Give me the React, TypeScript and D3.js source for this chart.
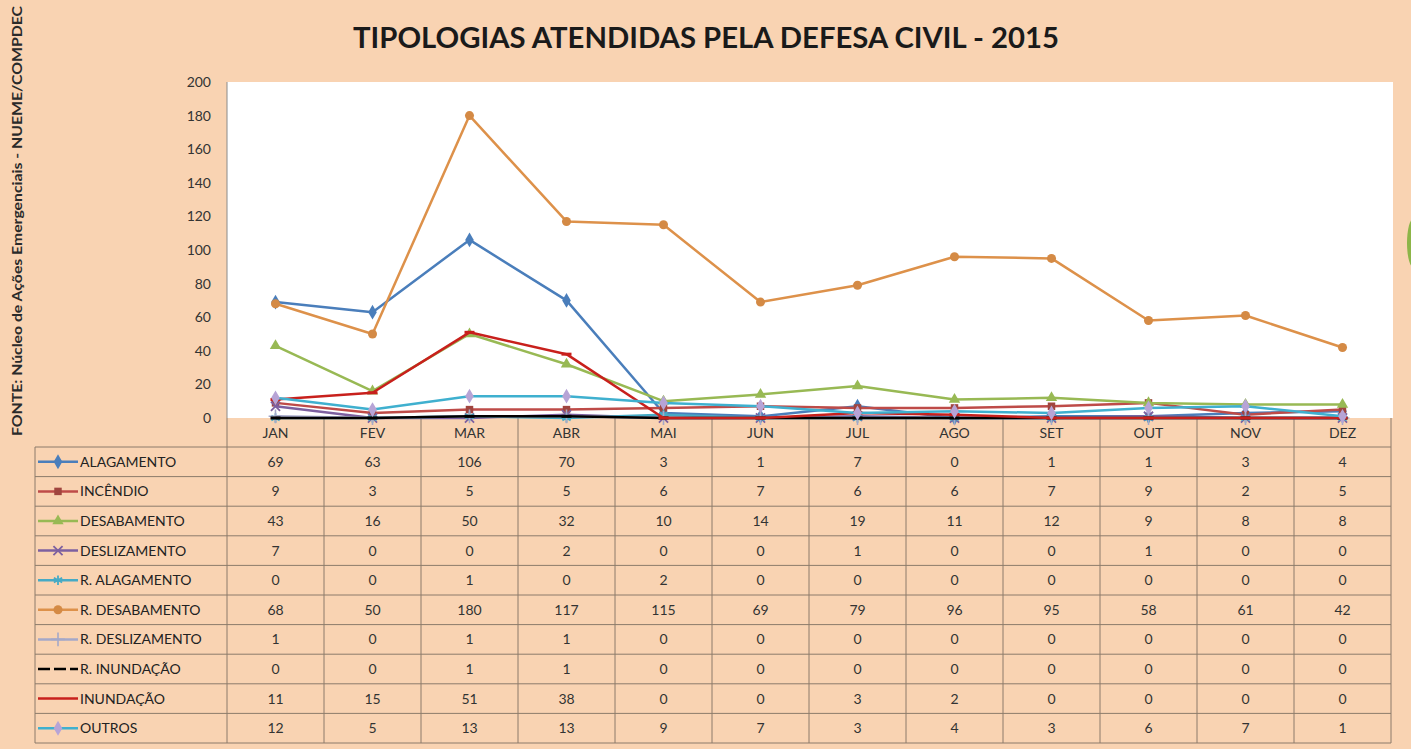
import React from "react";
import * as d3 from "d3";

const months = ["JAN", "FEV", "MAR", "ABR", "MAI", "JUN", "JUL", "AGO", "SET", "OUT", "NOV", "DEZ"];
const yTicks = [0, 20, 40, 60, 80, 100, 120, 140, 160, 180, 200];

const alagamento = [69, 63, 106, 70, 3, 1, 7, 0, 1, 1, 3, 4];
const incendio = [9, 3, 5, 5, 6, 7, 6, 6, 7, 9, 2, 5];
const desabamento = [43, 16, 50, 32, 10, 14, 19, 11, 12, 9, 8, 8];
const deslizamento = [7, 0, 0, 2, 0, 0, 1, 0, 0, 1, 0, 0];
const rAlagamento = [0, 0, 1, 0, 2, 0, 0, 0, 0, 0, 0, 0];
const rDesabamento = [68, 50, 180, 117, 115, 69, 79, 96, 95, 58, 61, 42];
const rDeslizamento = [1, 0, 1, 1, 0, 0, 0, 0, 0, 0, 0, 0];
const rInundacao = [0, 0, 1, 1, 0, 0, 0, 0, 0, 0, 0, 0];
const inundacao = [11, 15, 51, 38, 0, 0, 3, 2, 0, 0, 0, 0];
const outros = [12, 5, 13, 13, 9, 7, 3, 4, 3, 6, 7, 1];

const seriesNames = [
  "ALAGAMENTO", "INCÊNDIO", "DESABAMENTO", "DESLIZAMENTO", "R. ALAGAMENTO",
  "R. DESABAMENTO", "R. DESLIZAMENTO", "R. INUNDAÇÃO", "INUNDAÇÃO", "OUTROS",
];
const seriesValues = [
  alagamento, incendio, desabamento, deslizamento, rAlagamento,
  rDesabamento, rDeslizamento, rInundacao, inundacao, outros,
];

type Style = { line: string; marker: string; kind: string };
const styles: Style[] = [
  { line: "#4A7EBB", marker: "#4A7EBB", kind: "diamond" },
  { line: "#BE4B48", marker: "#A0453F", kind: "square" },
  { line: "#98B954", marker: "#98B954", kind: "triangle" },
  { line: "#7D60A0", marker: "#7D60A0", kind: "x" },
  { line: "#46AAC5", marker: "#46AAC5", kind: "asterisk" },
  { line: "#DD914A", marker: "#D48A45", kind: "circle" },
  { line: "#A5A8C8", marker: "#A5A8C8", kind: "plus" },
  { line: "#000000", marker: "#000000", kind: "dash" },
  { line: "#C8201C", marker: "#C8201C", kind: "dash" },
  { line: "#3FB0CF", marker: "#B7A4D6", kind: "diamond" },
];

const W = 1411, H = 749;
const plotL = 227, plotR = 1391, plotT = 82, plotB = 418;
const tableL = 35;
const headerB = 447;
const rowH = 29.6;

function Marker({ x, y, s }: { x: number; y: number; s: Style }) {
  const k = s.kind;
  const t = `translate(${x},${y})`;
  if (k === "diamond") return <path d={d3.symbol(d3.symbolDiamond, 64)()!} transform={t} fill={s.marker} />;
  if (k === "square") return <path d={d3.symbol(d3.symbolSquare, 56)()!} transform={t} fill={s.marker} />;
  if (k === "triangle") return <path d={d3.symbol(d3.symbolTriangle, 56)()!} transform={t} fill={s.marker} />;
  if (k === "circle") return <path d={d3.symbol(d3.symbolCircle, 64)()!} transform={t} fill={s.marker} />;
  if (k === "x") return <path d={d3.symbol(d3.symbolX, 56)()!} transform={t} fill="none" stroke={s.marker} strokeWidth={1.8} />;
  if (k === "asterisk") return <path d={d3.symbol(d3.symbolAsterisk, 64)()!} transform={t} fill="none" stroke={s.marker} strokeWidth={1.8} />;
  if (k === "plus") return <path d={d3.symbol(d3.symbolPlus, 64)()!} transform={t} fill="none" stroke={s.marker} strokeWidth={1.6} />;
  if (k === "dash") return <line x1={x - 5} x2={x + 5} y1={y} y2={y} stroke={s.marker} strokeWidth={3} />;
  return null;
}

export default function App() {
  const x = d3.scaleBand<string>().domain(months).range([plotL, plotR]);
  const y = d3.scaleLinear().domain([0, 200]).range([plotB, plotT]);
  const cx = (m: string) => (x(m) ?? 0) + x.bandwidth() / 2;
  const line = d3.line<number>().x((_, i) => cx(months[i])).y((v) => y(v));
  const font = "Lato, 'Open Sans', sans-serif";
  const gridColor = "#8C7B6B";

  return (
    <svg width={W} height={H} style={{ position: "absolute", left: 0, top: 0 }} fontFamily={font}>
      <rect x={0} y={0} width={W} height={H} fill="#F9D3B2" />
      <ellipse cx={1414} cy={243} rx={7} ry={25} fill="#8DB548" />
      <text x={706} y={48} textAnchor="middle" fontSize={28} fontWeight={700} fill="#1a1a1a"
        textLength={706} lengthAdjust="spacingAndGlyphs">TIPOLOGIAS ATENDIDAS PELA DEFESA CIVIL - 2015</text>
      <text transform="translate(22,221) rotate(-90)" textAnchor="middle" fontSize={13} fontWeight={700}
        fill="#2a2a2a" textLength={430} lengthAdjust="spacingAndGlyphs">FONTE: Núcleo de Ações Emergenciais - NUEME/COMPDEC</text>

      <rect x={plotL} y={plotT} width={plotR - plotL + 2} height={plotB - plotT} fill="#ffffff" />
      <line x1={plotL} x2={plotL} y1={plotT} y2={plotB} stroke="#8a8a8a" strokeWidth={1} />

      {yTicks.map((t) => (
        <text key={t} x={211} y={y(t) + 5} textAnchor="end" fontSize={14} fill="#333">{t}</text>
      ))}

      <g stroke={gridColor} strokeWidth={1} fill="none">
        <line x1={plotL} x2={plotL} y1={plotB} y2={headerB + rowH * 10} />
        <line x1={tableL} x2={tableL} y1={headerB} y2={headerB + rowH * 10} />
        {months.map((m) => (
          <line key={m} x1={(x(m) ?? 0) + x.bandwidth()} x2={(x(m) ?? 0) + x.bandwidth()} y1={plotB} y2={headerB + rowH * 10} />
        ))}
        {d3.range(11).map((i) => (
          <line key={i} x1={tableL} x2={plotR} y1={headerB + i * rowH} y2={headerB + i * rowH} />
        ))}
      </g>
      {months.map((m) => (
        <text key={m} x={cx(m)} y={plotB + 20} textAnchor="middle" fontSize={14} fill="#333">{m}</text>
      ))}
      {seriesNames.map((name, r) => {
        const yy = headerB + r * rowH + rowH / 2;
        const s = styles[r];
        return (
          <g key={name}>
            <line x1={38} x2={78} y1={yy} y2={yy} stroke={s.line} strokeWidth={2.5}
              strokeDasharray={r === 7 ? "12 4" : undefined} />
            {s.kind !== "dash" && <Marker x={58} y={yy} s={s} />}
            <text x={80} y={yy + 5} fontSize={14} fill="#222">{name}</text>
            {seriesValues[r].map((v, i) => (
              <text key={i} x={cx(months[i])} y={yy + 5} textAnchor="middle" fontSize={14} fill="#333">{v}</text>
            ))}
          </g>
        );
      })}

      {seriesValues.map((vals, r) => (
        <g key={r}>
          <path d={line(vals)!} fill="none" stroke={styles[r].line} strokeWidth={2.5} strokeLinejoin="round" />
          {vals.map((v, i) => (
            <Marker key={i} x={cx(months[i])} y={y(v)} s={styles[r]} />
          ))}
        </g>
      ))}
    </svg>
  );
}
